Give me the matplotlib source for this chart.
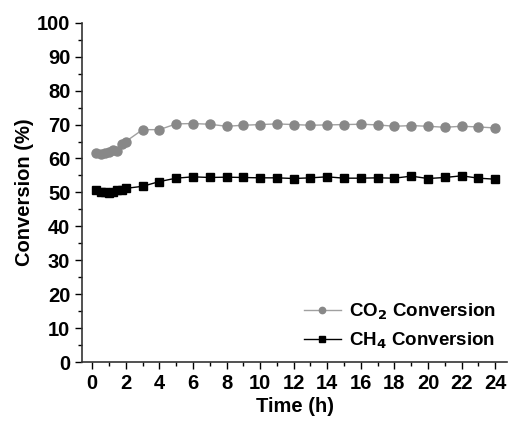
import numpy as np
import matplotlib
matplotlib.use("Agg")
import matplotlib.pyplot as plt
from matplotlib.ticker import MultipleLocator

plt.rcParams['font.family'] = ['Liberation Sans', 'DejaVu Sans']
plt.rcParams['font.weight'] = 'bold'

time_h = [0.25, 0.5, 0.75, 1.0, 1.25, 1.5, 1.75, 2.0, 3, 4, 5, 6, 7, 8, 9, 10, 11, 12,
          13, 14, 15, 16, 17, 18, 19, 20, 21, 22, 23, 24]
co2_conv = [61.5, 61.2, 61.5, 62.0, 62.6, 62.3, 64.2, 65.0, 68.5, 68.5, 70.2, 70.3, 70.1,
            69.5, 69.8, 70.0, 70.2, 70.0, 69.8, 69.9, 70.0, 70.1, 69.9, 69.5, 69.7, 69.5,
            69.2, 69.5, 69.3, 69.0]
ch4_conv = [50.7, 50.2, 50.0, 49.9, 50.0, 50.6, 50.7, 51.2, 51.8, 53.2, 54.2, 54.6, 54.4,
            54.5, 54.4, 54.3, 54.3, 54.1, 54.3, 54.6, 54.2, 54.2, 54.3, 54.2, 54.8, 54.1,
            54.4, 54.9, 54.2, 53.9]

fig = plt.figure(figsize=(5.1, 4.3), dpi=100)
ax = fig.add_axes([0.161, 0.158, 0.833, 0.789])

ax.plot(time_h, co2_conv, color='#a0a0a0', lw=1, marker='o', ms=6.5,
        mfc='#888888', mec='#888888', label='CO$_2$ Conversion')
ax.plot(time_h, ch4_conv, color='black', lw=1, marker='s', ms=5.5,
        mfc='black', mec='black', label='CH$_4$ Conversion')

ax.set_xlim(-0.6, 24.7)
ax.set_ylim(0, 100)
ax.xaxis.set_major_locator(MultipleLocator(2))
ax.xaxis.set_minor_locator(MultipleLocator(1))
ax.yaxis.set_major_locator(MultipleLocator(10))
ax.yaxis.set_minor_locator(MultipleLocator(5))
ax.tick_params(which='major', length=5, width=1, labelsize=14.5, direction='out')
ax.tick_params(which='minor', length=3, width=1, direction='out')
for side in ['top', 'right']:
    ax.spines[side].set_visible(False)
for side in ['left', 'bottom']:
    ax.spines[side].set_linewidth(1.2)
    ax.spines[side].set_color('#333333')

ax.set_xlabel('Time (h)', fontsize=14.5, fontweight='bold', labelpad=3)
ax.set_ylabel('Conversion (%)', fontsize=14.5, fontweight='bold', labelpad=2)

ax.legend(loc='lower right', frameon=False, fontsize=13.5, handlelength=2.0,
          handletextpad=0.4, borderaxespad=0.2, labelspacing=0.45, markerscale=0.7)

fig.savefig('out.png', dpi=100)
